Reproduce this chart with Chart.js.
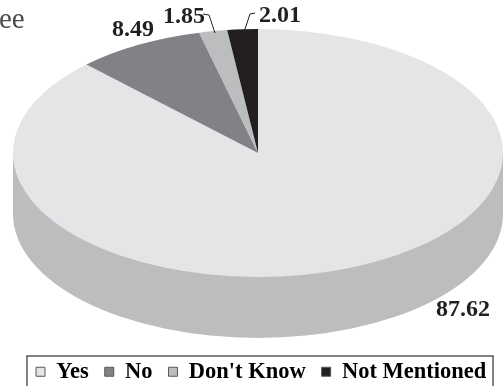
<!DOCTYPE html>
<html>
<head>
<meta charset="utf-8">
<title>Pie</title>
<style>
  html, body { margin: 0; padding: 0; background: #fff; }
  canvas { display: block; }
</style>
<script src="https://cdn.jsdelivr.net/npm/chart.js@4/dist/chart.umd.min.js"></script>
</head>
<body>
<canvas id="myChart" width="503" height="386"></canvas>
<script>
const categories = ["Yes", "No", "Don't Know", "Not Mentioned"];
const values = [87.62, 8.49, 1.85, 2.01];
const sliceColors = ["#e4e5e7", "#808285", "#bbbdbf", "#231f20"];

// tilted disc: centre, radii and how deep the side wall runs
const disc = { x: 258, y: 153, rx: 245, ry: 124, depth: 61 };
const sideColor = "#bcbdbf";
const labelFont = "bold 24px 'Liberation Serif'";
const inkColor = "#231f20";

// where each value label sits, same order as categories
const labelSpots = [
  { x: 463, y: 310 },
  { x: 133, y: 30 },
  { x: 184, y: 17 },
  { x: 280, y: 16 },
];
// the two thin leaders for the narrow slices
const leaders = [
  [[203, 14], [209, 15], [215, 33]],
  [[255, 13], [250, 14], [244, 32]],
];

const tiltedPie = {
  id: "tiltedPie",
  beforeDatasetsDraw(chart) {
    const ctx = chart.ctx;
    const arc = chart.getDatasetMeta(0).data[0];

    // side wall first, the face goes on top of it
    ctx.save();
    ctx.fillStyle = sideColor;
    ctx.beginPath();
    ctx.ellipse(disc.x, disc.y + disc.depth, disc.rx, disc.ry, 0, 0, Math.PI);
    ctx.lineTo(disc.x - disc.rx, disc.y);
    ctx.lineTo(disc.x + disc.rx, disc.y);
    ctx.closePath();
    ctx.fill();

    // squash the round pie into the ellipse
    ctx.translate(disc.x, disc.y);
    ctx.scale(disc.rx / arc.outerRadius, disc.ry / arc.outerRadius);
    ctx.translate(-arc.x, -arc.y);
  },
  afterDatasetsDraw(chart) {
    chart.ctx.restore();
  },
  afterDraw(chart) {
    const ctx = chart.ctx;
    ctx.save();

    // cut off word at the top left
    ctx.fillStyle = "#4d4d4f";
    ctx.font = "29px 'Liberation Serif'";
    ctx.textAlign = "left";
    ctx.textBaseline = "alphabetic";
    ctx.fillText("ee", -1, 28);

    ctx.fillStyle = inkColor;
    ctx.font = labelFont;
    ctx.textAlign = "center";
    ctx.textBaseline = "middle";
    values.forEach(function (v, i) {
      ctx.fillText(v.toFixed(2), labelSpots[i].x, labelSpots[i].y);
    });

    ctx.strokeStyle = inkColor;
    ctx.lineWidth = 1;
    leaders.forEach(function (pts) {
      ctx.beginPath();
      pts.forEach(function (p, i) {
        if (i === 0) ctx.moveTo(p[0], p[1]);
        else ctx.lineTo(p[0], p[1]);
      });
      ctx.stroke();
    });

    // frame around the legend, runs off the bottom
    ctx.strokeStyle = "#58595b";
    ctx.lineWidth = 1.5;
    ctx.strokeRect(27, 356, 466, 40);
    ctx.restore();
  },
};

const myChart = new Chart(document.getElementById("myChart").getContext("2d"), {
  type: "pie",
  data: {
    labels: categories,
    datasets: [
      {
        data: values,
        backgroundColor: sliceColors,
        borderWidth: 0,
        clip: false,
      },
    ],
  },
  options: {
    responsive: false,
    animation: false,
    // negative right side so the one legend row is not wrapped
    layout: { padding: { left: 20, right: -60, bottom: -7 } },
    plugins: {
      tooltip: { enabled: false },
      legend: {
        position: "bottom",
        align: "start",
        labels: {
          boxWidth: 9,
          boxHeight: 9,
          padding: 16,
          color: inkColor,
          font: { family: "'Liberation Serif'", size: 22.5, weight: "bold" },
          generateLabels(chart) {
            return categories.map(function (name, i) {
              return {
                text: name,
                fillStyle: sliceColors[i],
                strokeStyle: "#58595b",
                lineWidth: 1,
                index: i,
              };
            });
          },
        },
      },
    },
  },
  plugins: [tiltedPie],
});
</script>
</body>
</html>
